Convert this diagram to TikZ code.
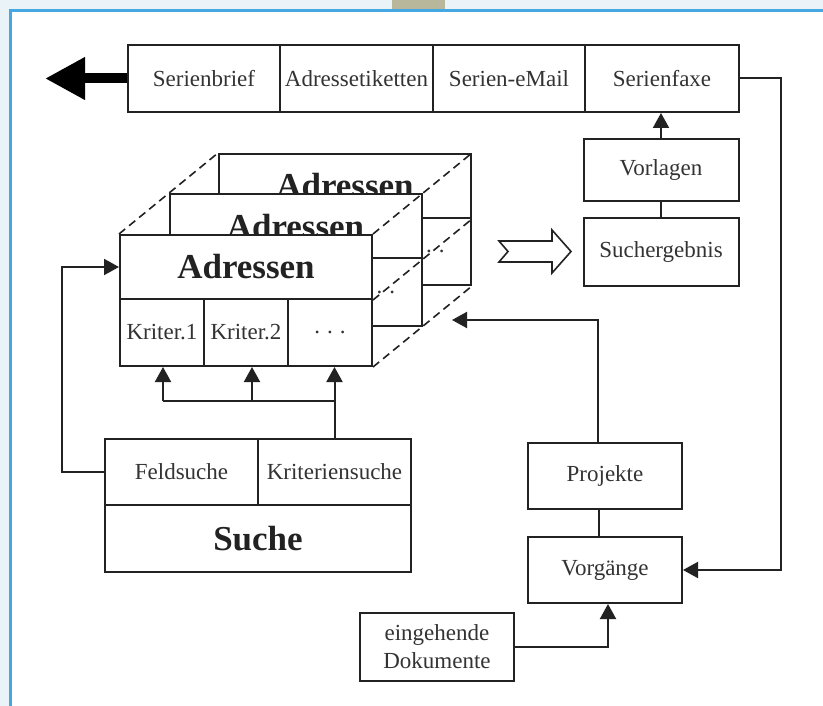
\documentclass[tikz,border=0pt]{standalone}
\usepackage{fontspec}
\setmainfont{Liberation Serif}
\usetikzlibrary{arrows.meta,calc}
\definecolor{linec}{HTML}{222222}
\definecolor{textc}{HTML}{333333}
\definecolor{framec}{HTML}{45A8E2}
\definecolor{outerc}{HTML}{EAF3F8}
\definecolor{tabc}{HTML}{B8B79C}
\begin{document}
\begin{tikzpicture}[x=1pt,y=-1pt,
  cell/.style={draw=linec, line width=2pt, fill=white, inner sep=0pt, text=textc,
    font=\fontsize{23}{26}\selectfont, align=center},
  head/.style={cell, text=linec, font=\bfseries\fontsize{35}{40}\selectfont},
  link/.style={draw=linec, line width=2pt},
  arr/.style={link, -{Triangle[length=15pt,width=16pt]}},
  dsh/.style={draw=linec, line width=1.6pt, dash pattern=on 8pt off 5pt}]
\useasboundingbox (0,0) rectangle (823,706);
\fill[outerc] (0,0) rectangle (823,706);
\fill[white] (10,11) rectangle (823,706);
\fill[tabc] (392,0) rectangle (445,9);
\draw[framec, line width=3pt] (10,706) -- (10,11) -- (823,11);

% top bar
\node[cell, minimum width=152, minimum height=67] (sb) at (204,78.5) {Serienbrief};
\node[cell, minimum width=153, minimum height=67] (ae) at (356.5,78.5) {Adressetiketten};
\node[cell, minimum width=152, minimum height=67] (sm) at (509,78.5) {Serien-eMail};
\node[cell, minimum width=154, minimum height=67] (sf) at (662,78.5) {Serienfaxe};

% thick output arrow
\coordinate (out) at (45,78.5);
\draw[draw=black, line width=10pt, -{Triangle[length=40pt,width=40pt]}] (sb.west) -- (out);

% Vorlagen / Suchergebnis
\node[cell, minimum width=155, minimum height=62] (vl) at (661,170) {Vorlagen};
\node[cell, minimum width=155, minimum height=68] (se) at (661,252) {Suchergebnis};
\draw[arr] (vl.north) -- (vl.north |- sf.south);
\draw[link] (se.north) -- (vl.south);

% stack of Adressen tables (back ones: only the visible texts)
\foreach \dx/\dy/\p in {99/-81/b-, 49.5/-40.5/m-} {
  \begin{scope}[shift={(\dx,\dy)}, name prefix=\p]
    \node[head, minimum width=252, minimum height=64] (ahead) at (246,267) {Adressen};
    \node[cell, minimum width=84, minimum height=67] (k1) at (162,332.5) {};
    \node[cell, minimum width=84, minimum height=67] (k2) at (246,332.5) {};
    \node[cell, minimum width=84, minimum height=67] (k3) at (330,332.5) {.\hspace{0.3em}.\hspace{0.3em}.};
  \end{scope}
}
\node[head, minimum width=252, minimum height=64] (ahead) at (246,267) {Adressen};
\node[cell, minimum width=84, minimum height=67] (k1) at (162,332.5) {Kriter.1};
\node[cell, minimum width=84, minimum height=67] (k2) at (246,332.5) {Kriter.2};
\node[cell, minimum width=84, minimum height=67] (k3) at (330,332.5) {.\hspace{0.3em}.\hspace{0.3em}.};
\foreach \a in {ahead.north west, ahead.north east, ahead.south east, k3.south east} {
  \draw[dsh] (\a) -- (m-\a) -- (b-\a);
}

% hollow arrow
\draw[linec, line width=1.6pt, fill=white]
  (499,241) -- (552,241) -- (552,230) -- (571,251.5) -- (552,273) -- (552,262)
  -- (499,262) -- (508,251.5) -- cycle;

% Suche block
\node[cell, minimum width=153, minimum height=66] (fs) at (181.5,472) {Feldsuche};
\node[cell, minimum width=153, minimum height=66] (ks) at (334.5,472) {Kriteriensuche};
\node[head, minimum width=306, minimum height=67] (su) at (258,538.5) {Suche};

\draw[arr] (ks.north) -- (ks.north |- k3.south);
\coordinate (bus) at (163,401);
\coordinate (bus2) at (252,401);
\draw[link] (ks.north |- bus) -- (bus);
\draw[arr] (bus) -- (bus |- k1.south);
\draw[arr] (bus2) -- (bus2 |- k2.south);
\draw[arr] (fs.west) -- ++(-42,0) |- (ahead.west);

% Projekte / Vorgaenge
\node[cell, minimum width=154, minimum height=66] (pj) at (605,476) {Projekte};
\node[cell, minimum width=154, minimum height=66] (vg) at (605,570) {Vorgänge};
\node[cell, minimum width=154, minimum height=68] (ed) at (437,647) {eingehende\\[2pt]Dokumente};
\coordinate (ptarget) at (452,320);
\draw[arr] ($(pj.north)+(-7,0)$) |- (ptarget);
\draw[link] ($(vg.north)+(-6,0)$) -- ($(pj.south)+(-6,0)$);
\draw[arr] (sf.east) -- ++(41,0) |- (vg.east);
\draw[arr] (ed.east) -| ($(vg.south)+(3,0)$);
\end{tikzpicture}
\end{document}
